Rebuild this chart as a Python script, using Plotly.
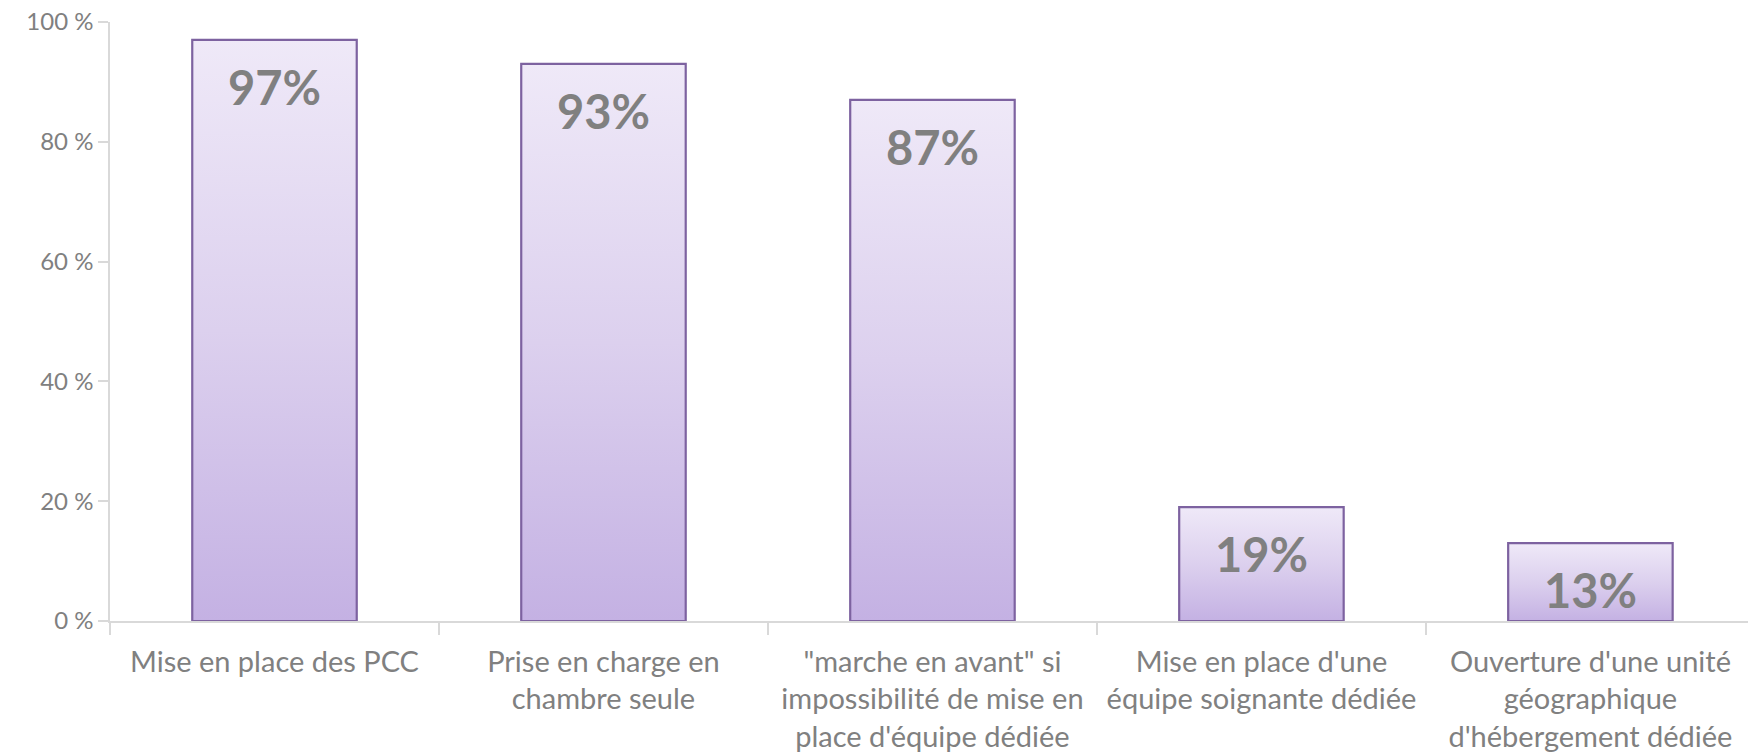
import plotly.graph_objects as go

# Actions mises en oeuvre (% des établissements)
categories = [
    "Mise en place des PCC",
    "Prise en charge en<br>chambre seule",
    "\"marche en avant\" si<br>impossibilité de mise en<br>place d'équipe dédiée",
    "Mise en place d'une<br>équipe soignante dédiée",
    "Ouverture d'une unité<br>géographique<br>d'hébergement dédiée",
]
values = [97, 93, 87, 19, 13]
value_labels = ["97%", "93%", "87%", "19%", "13%"]
y_ticks = [0, 20, 40, 60, 80, 100]
y_tick_labels = ["0 %", "20 %", "40 %", "60 %", "80 %", "100 %"]

BAR_HALF = 0.25
FONT = "Lato, 'Open Sans', sans-serif"
GREY = "#808080"
AXIS_GREY = "#d9d9d9"

fig = go.Figure()

# Each bar is a closed polygon filled with a vertical lavender gradient
for i, v in enumerate(values):
    fig.add_trace(go.Scatter(
        x=[i - BAR_HALF, i - BAR_HALF, i + BAR_HALF, i + BAR_HALF, i - BAR_HALF],
        y=[0, v, v, 0, 0],
        mode="lines",
        fill="toself",
        fillgradient=dict(
            type="vertical",
            colorscale=[[0, "#c4b1e3"], [0.5, "#dcd0ee"], [1, "#efe9f8"]],
        ),
        line=dict(color="#7d62a0", width=2.2),
        hoverinfo="skip",
        showlegend=False,
    ))

# Value labels inside the top of each bar
for i, (v, t) in enumerate(zip(values, value_labels)):
    fig.add_annotation(
        x=i, y=v, text=f"<b>{t}</b>", showarrow=False,
        yanchor="middle", yshift=-47,
        font=dict(family=FONT, size=47, color=GREY),
    )

fig.update_layout(
    width=1748, height=755,
    margin=dict(l=110, r=0, t=22, b=134),
    paper_bgcolor="white", plot_bgcolor="white",
    font=dict(family=FONT, color=GREY),
    xaxis=dict(
        range=[-0.5, 4.479],
        tickmode="array", tickvals=list(range(len(categories))), ticktext=categories,
        ticks="", showgrid=False, zeroline=False,
        showline=True, linecolor=AXIS_GREY, linewidth=1.5,
        tickfont=dict(family=FONT, size=29, color=GREY),
        ticklabelstandoff=14,
        minor=dict(tick0=-0.5, dtick=1, ticks="outside", ticklen=12,
                   tickcolor=AXIS_GREY, tickwidth=1.5, showgrid=False),
        fixedrange=True,
    ),
    yaxis=dict(
        range=[0, 100],
        tickmode="array", tickvals=y_ticks, ticktext=y_tick_labels,
        ticks="outside", ticklen=10, tickcolor=AXIS_GREY, tickwidth=1.5,
        showgrid=False, zeroline=False,
        showline=True, linecolor=AXIS_GREY, linewidth=1.5,
        tickfont=dict(family=FONT, size=24, color=GREY),
        fixedrange=True,
    ),
)

fig.write_html("out.html")
